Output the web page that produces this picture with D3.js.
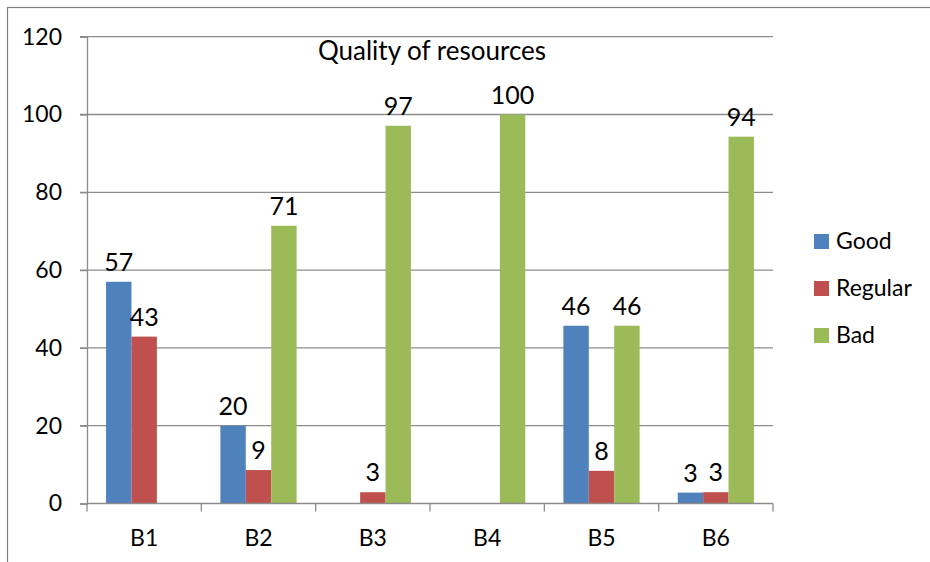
<!DOCTYPE html>
<html>
<head>
<meta charset="utf-8">
<script src="https://cdnjs.cloudflare.com/ajax/libs/d3/7.8.5/d3.min.js"></script>
<style>
  body { margin: 0; background: #fff; }
  svg { display: block; font-family: Lato, "Open Sans", sans-serif; }
</style>
</head>
<body>
<div id="app"></div>
<script>
(function (d3) {

  'use strict'

  // chart data
  const categories = ['B1', 'B2', 'B3', 'B4', 'B5', 'B6']
  const seriesNames = ['Good', 'Regular', 'Bad']
  const good = [57, 20, 0, 0, 45.7, 2.8]
  const regular = [42.9, 8.6, 2.9, 0, 8.4, 2.9]
  const bad = [0, 71.4, 97.1, 100, 45.7, 94.3]
  const yTicks = [0, 20, 40, 60, 80, 100, 120]
  const colors = ['#4f81bd', '#c0504d', '#9bbb59']

  const w = 930
  const h = 562
  const left = 87
  const right = 773
  const top = 36.7
  const bottom = 503.5

  const svg = d3.select('#app')
    .append('svg')
    .attr('width', w)
    .attr('height', h)

  // outer chart border (cropped at right/bottom)
  svg.append('rect')
    .attr('x', 7.5).attr('y', 7.5)
    .attr('width', 1000).attr('height', 1000)
    .attr('fill', 'none')
    .attr('stroke', '#7f7f7f')
    .attr('stroke-width', 1.2)

  const x0 = d3.scaleBand()
    .domain(categories)
    .range([left, right])
    .paddingInner(0)
    .paddingOuter(0)

  const x1 = d3.scaleBand()
    .domain(seriesNames)
    .range([0, x0.bandwidth()])
    .paddingInner(0)
    .paddingOuter(0.75)

  const y = d3.scaleLinear()
    .domain([0, 120])
    .range([bottom, top])

  // gridlines
  svg.append('g')
    .selectAll('line')
    .data(yTicks.filter(d => d > 0))
    .enter()
    .append('line')
    .attr('x1', left - 7)
    .attr('x2', right)
    .attr('y1', d => y(d))
    .attr('y2', d => y(d))
    .attr('stroke', '#8c8c8c')
    .attr('stroke-width', 1.3)

  // y axis
  const yAxis = svg.append('g')
    .attr('transform', 'translate(' + left + ',0)')
    .call(d3.axisLeft(y).tickValues(yTicks).tickSize(7).tickPadding(18))
  yAxis.select('.domain').attr('stroke', '#8c8c8c').attr('stroke-width', 1.3)
  yAxis.selectAll('line').attr('stroke', '#8c8c8c').attr('stroke-width', 1.3)
  yAxis.selectAll('text')
    .attr('fill', '#000')
    .style('font-family', 'Lato, sans-serif')
    .style('font-size', '23px')

  // bars
  const data = categories.map((c, i) => ({
    cat: c,
    vals: [good[i], regular[i], bad[i]]
  }))

  const groups = svg.append('g')
    .selectAll('g')
    .data(data)
    .enter()
    .append('g')
    .attr('transform', d => 'translate(' + x0(d.cat) + ',0)')

  groups.selectAll('rect')
    .data(d => d.vals.map((v, j) => ({ s: seriesNames[j], v: v, j: j })))
    .enter()
    .append('rect')
    .attr('x', d => x1(d.s))
    .attr('width', x1.bandwidth())
    .attr('y', d => y(d.v))
    .attr('height', d => bottom - y(d.v))
    .attr('fill', d => colors[d.j])

  groups.selectAll('text')
    .data(d => d.vals.map((v, j) => ({ s: seriesNames[j], v: v })).filter(d => d.v > 0))
    .enter()
    .append('text')
    .attr('x', d => x1(d.s) + x1.bandwidth() / 2)
    .attr('y', d => y(d.v) - 11)
    .attr('text-anchor', 'middle')
    .style('font-size', '25px')
    .text(d => Math.round(d.v))

  // x axis
  const xAxis = svg.append('g')
    .attr('transform', 'translate(0,' + bottom + ')')
  xAxis.append('line')
    .attr('x1', left).attr('x2', right)
    .attr('stroke', '#8c8c8c').attr('stroke-width', 1.3)
  xAxis.selectAll('.tick')
    .data(d3.range(categories.length + 1))
    .enter()
    .append('line')
    .attr('x1', i => left + i * x0.step())
    .attr('x2', i => left + i * x0.step())
    .attr('y1', 0).attr('y2', 8)
    .attr('stroke', '#8c8c8c').attr('stroke-width', 1.3)
  xAxis.selectAll('text')
    .data(categories)
    .enter()
    .append('text')
    .attr('x', d => x0(d) + x0.bandwidth() / 2)
    .attr('y', 42)
    .attr('text-anchor', 'middle')
    .style('font-size', '23px')
    .text(d => d)

  // title
  svg.append('text')
    .attr('x', (left + right) / 2 + 2)
    .attr('y', 60)
    .attr('text-anchor', 'middle')
    .style('font-size', '26px')
    .text('Quality of resources')

  // legend
  const legend = svg.append('g')
    .attr('transform', 'translate(814,234)')
    .selectAll('g')
    .data(seriesNames)
    .enter()
    .append('g')
    .attr('transform', (d, i) => 'translate(0,' + i * 47 + ')')
  legend.append('rect')
    .attr('width', 15).attr('height', 15)
    .attr('fill', (d, i) => colors[i])
  legend.append('text')
    .attr('x', 22)
    .attr('y', 15)
    .style('font-size', '23px')
    .text(d => d)

}(d3))
</script>
</body>
</html>
